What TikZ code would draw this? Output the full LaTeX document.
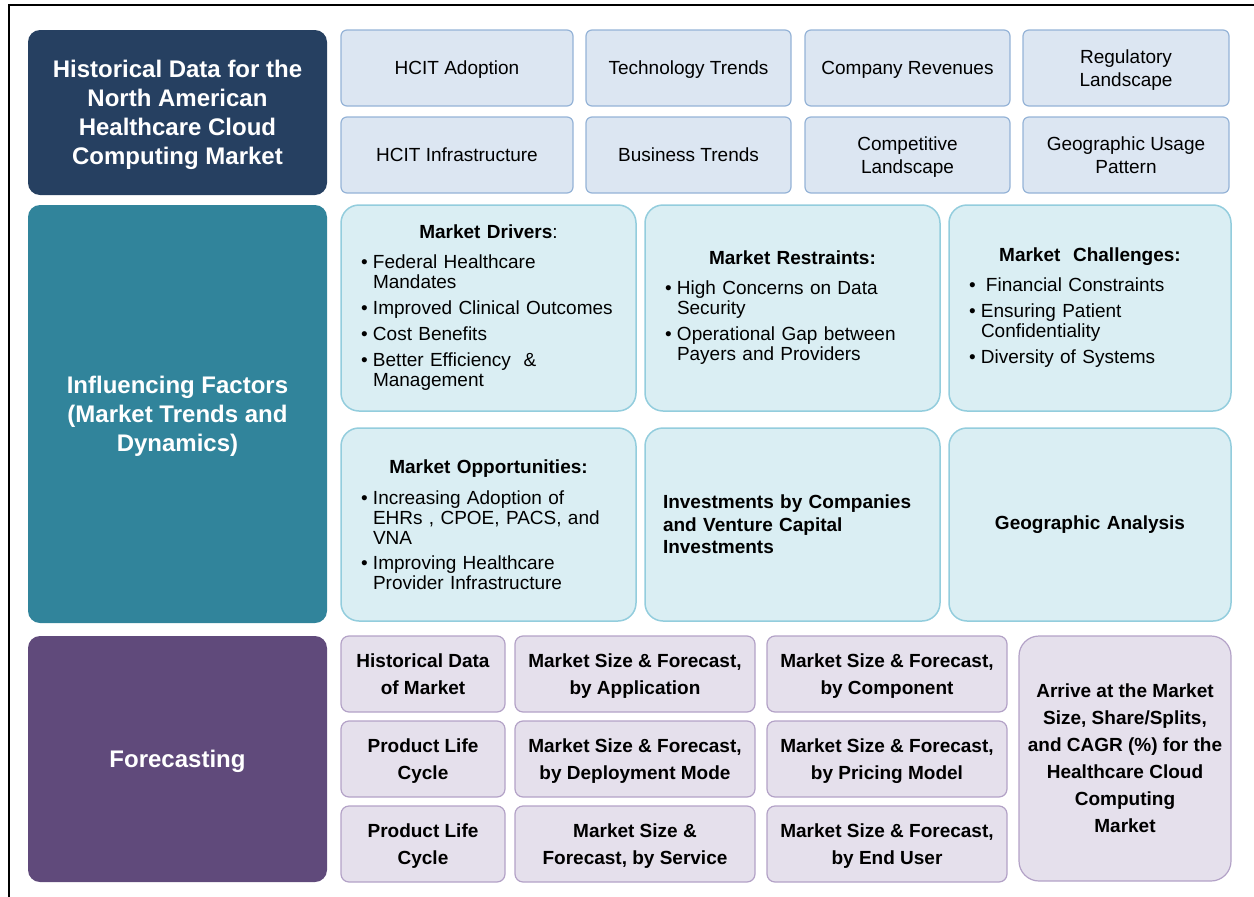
\documentclass[tikz,border=0pt]{standalone}
\usepackage{fontspec}
\setmainfont{Liberation Sans}
\usepackage{tikz}
\usetikzlibrary{positioning}
\definecolor{histdark}{HTML}{264061}
\definecolor{infldark}{HTML}{31849B}
\definecolor{foredark}{HTML}{604A7B}
\definecolor{datafill}{HTML}{DCE6F2}
\definecolor{datadraw}{HTML}{95B3D7}
\definecolor{factorfill}{HTML}{DAEEF3}
\definecolor{factordraw}{HTML}{93CDDD}
\definecolor{forefill}{HTML}{E5E0EC}
\definecolor{foredraw}{HTML}{B3A2C7}
% bullet item with hanging indent, optional space above
\newcommand{\blt}[2][6pt]{\par\vspace{#1}\hangindent=12pt\hangafter=1\noindent\makebox[12pt][l]{\textbullet}#2\par}

\begin{document}
\begin{tikzpicture}[
    x=1pt, y=-1pt,
    node distance=13pt,
    every node/.style={outer sep=0pt},
    headbox/.style={rounded corners=12pt, minimum width=299pt, text=white, align=center, text depth=0pt, font=\fontsize{24}{29}\selectfont\bfseries},
    databox/.style={draw=datadraw, fill=datafill, line width=1.2pt, rounded corners=6pt, minimum height=76pt, align=center, text depth=0pt, font=\fontsize{19}{23}\selectfont},
    factorbox/.style={draw=factordraw, fill=factorfill, line width=1.5pt, rounded corners=18pt, inner xsep=20pt, inner ysep=0pt, text width=255pt, align=left, font=\fontsize{19}{20}\selectfont},
    forebox/.style={draw=foredraw, fill=forefill, line width=1.2pt, rounded corners=8pt, minimum height=76pt, align=center, text depth=0pt, font=\fontsize{19}{27}\selectfont\bfseries}
]
    \useasboundingbox (0,0) rectangle (1254,897);
    \draw[line width=2pt] (9,897) -- (9,5) -- (1254,5);

    % Left column
    \node[headbox, fill=histdark, minimum height=165pt, anchor=north west] (hist) at (28,30) {Historical Data for the\\North American\\Healthcare Cloud\\Computing Market};
    \node[headbox, fill=infldark, minimum height=418pt, below=10pt of hist] (infl) {Influencing Factors\\(Market Trends and\\Dynamics)};
    \node[headbox, fill=foredark, minimum height=246pt, below=13pt of infl] (fcast) {Forecasting};

    % Historical data
    \node[databox, minimum width=232pt, right=14pt of hist.north east, anchor=north west] (adoption) {HCIT Adoption};
    \node[databox, minimum width=205pt, right=13pt of adoption] (tech) {Technology Trends};
    \node[databox, minimum width=205pt, right=14pt of tech] (revenue) {Company Revenues};
    \node[databox, minimum width=206pt, right=13pt of revenue] (regulatory) {Regulatory\\Landscape};
    \node[databox, minimum width=232pt, below=11pt of adoption] (infra) {HCIT Infrastructure};
    \node[databox, minimum width=205pt, below=11pt of tech] (business) {Business Trends};
    \node[databox, minimum width=205pt, below=11pt of revenue] (competitive) {Competitive\\Landscape};
    \node[databox, minimum width=206pt, below=11pt of regulatory] (geousage) {Geographic Usage\\Pattern};

    % Influencing factors
    \node[factorbox, minimum height=206pt, right=14pt of infl.north east, anchor=north west] (drivers) {%
        \noindent\makebox[\hsize]{\bfseries Market Drivers\mdseries:}
        \blt[10pt]{Federal Healthcare\newline Mandates}
        \blt{Improved Clinical Outcomes}
        \blt{Cost Benefits}
        \blt{Better Efficiency\ \ \&\newline Management}};
    \node[factorbox, minimum height=206pt, right=9pt of drivers] (restraints) {%
        \noindent\makebox[\hsize]{\bfseries Market Restraints:}
        \blt[10pt]{High Concerns on Data\newline Security}
        \blt{Operational Gap between\newline Payers and Providers}};
    \node[factorbox, text width=242pt, minimum height=206pt, right=9pt of restraints] (challenges) {%
        \noindent\makebox[\hsize]{\bfseries Market\ \ Challenges:}
        \blt[10pt]{\hspace{5pt}Financial Constraints}
        \blt{Ensuring Patient\newline Confidentiality}
        \blt{Diversity of Systems}};
    \node[factorbox, minimum height=193pt, below=17pt of drivers] (opportunities) {%
        \noindent\makebox[\hsize]{\bfseries Market Opportunities:}
        \blt[11pt]{Increasing Adoption of\newline EHRs , CPOE, PACS, and\newline VNA}
        \blt[5pt]{Improving Healthcare\newline Provider Infrastructure}};
    \node[factorbox, minimum height=193pt, inner xsep=18pt, text width=259pt, font=\fontsize{19}{22.5}\selectfont\bfseries, below=17pt of restraints] (investments) {Investments by Companies\\and Venture Capital\\Investments};
    \node[factorbox, text width=242pt, minimum height=193pt, align=center, font=\fontsize{19}{20}\selectfont\bfseries, below=17pt of challenges] (geo) {Geographic Analysis};

    % Forecasting
    \node[forebox, minimum width=164pt, right=14pt of fcast.north east, anchor=north west] (histdata) {Historical Data\\of Market};
    \node[forebox, minimum width=240pt, right=10pt of histdata] (appsize) {Market Size \& Forecast,\\by Application};
    \node[forebox, minimum width=240pt, right=12pt of appsize] (compsize) {Market Size \& Forecast,\\by Component};
    \node[forebox, minimum width=164pt, below=9pt of histdata] (lifecycle) {Product Life\\Cycle};
    \node[forebox, minimum width=240pt, below=9pt of appsize] (deploysize) {Market Size \& Forecast,\\by Deployment Mode};
    \node[forebox, minimum width=240pt, below=9pt of compsize] (pricingsize) {Market Size \& Forecast,\\by Pricing Model};
    \node[forebox, minimum width=164pt, below=9pt of lifecycle] (lifecycleb) {Product Life\\Cycle};
    \node[forebox, minimum width=240pt, below=9pt of deploysize] (servicesize) {Market Size \&\\Forecast, by Service};
    \node[forebox, minimum width=240pt, below=9pt of pricingsize] (endusersize) {Market Size \& Forecast,\\by End User};
    \node[forebox, minimum width=212pt, minimum height=245pt, rounded corners=20pt, right=12pt of compsize.north east, anchor=north west] (arrive) {Arrive at the Market\\Size, Share/Splits,\\and CAGR (\%) for the\\Healthcare Cloud\\Computing\\Market};
\end{tikzpicture}
\end{document}
